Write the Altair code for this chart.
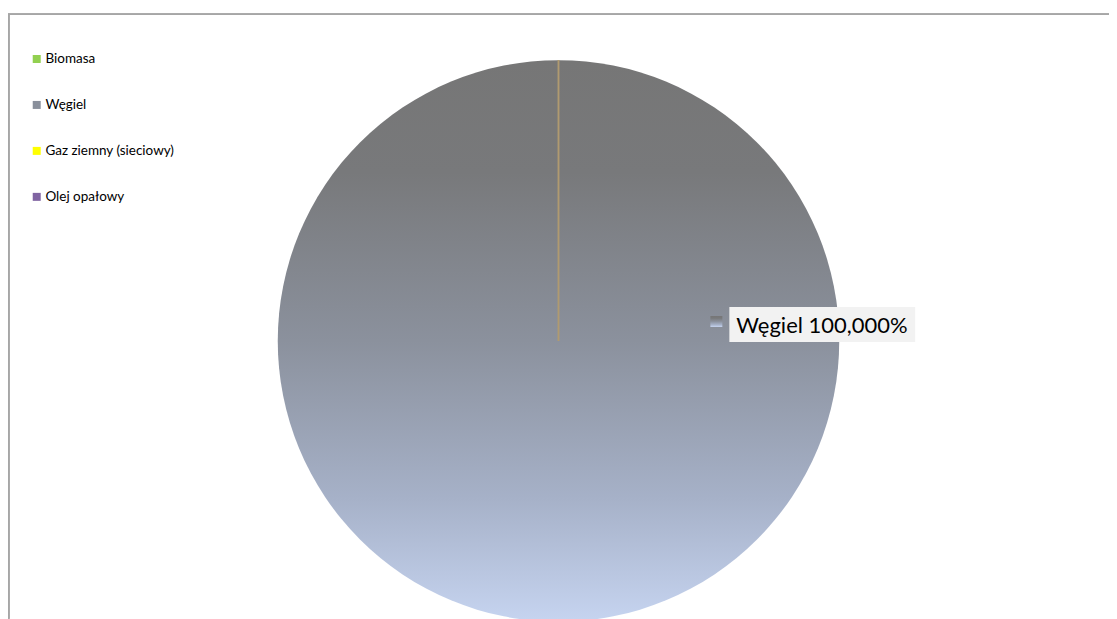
import altair as alt
import pandas as pd

categories = ["Biomasa", "Węgiel", "Gaz ziemny (sieciowy)", "Olej opałowy"]
shares = [0.0, 100.0, 0.0, 0.0]
legend_colors = ["#92d050", "#8a909c", "#ffff00", "#8064a2"]

df = pd.DataFrame({"category": categories, "value": shares, "idx": range(len(categories))})
df["label"] = df["category"] + " " + df["value"].map(lambda v: f"{v:.3f}".replace(".", ",")) + "%"

grad = {
    "gradient": "linear",
    "x1": 0, "y1": 0, "x2": 0, "y2": 1,
    "stops": [
        {"offset": 0.0, "color": "#767676"},
        {"offset": 0.2, "color": "#78797b"},
        {"offset": 0.5, "color": "#8b919d"},
        {"offset": 0.78, "color": "#a6b1c8"},
        {"offset": 1.0, "color": "#c6d4f0"},
    ],
}

FONT = "Lato"
CX, CY, R = 551, 333, 281

base = alt.Chart(df)

pie = base.mark_arc(radius=R, strokeWidth=1.5).encode(
    theta=alt.Theta("value:Q", stack=True),
    order=alt.Order("idx:Q"),
    color=alt.condition(
        alt.datum.category == "Węgiel",
        alt.value(grad),
        alt.Color(
            "category:N",
            scale=alt.Scale(domain=categories, range=legend_colors),
            sort=categories,
            legend=alt.Legend(
                title=None,
                orient="none",
                legendX=22,
                legendY=44,
                symbolType="square",
                symbolSize=64,
                symbolStrokeWidth=0,
                labelFont=FONT,
                labelFontSize=13.5,
                labelColor="#000000",
                rowPadding=31,
                labelOffset=2,
            ),
        ),
    ),
    stroke=alt.condition(alt.datum.value == 0, alt.value("#b09a70"), alt.value("transparent")),
    x=alt.value(CX),
    y=alt.value(CY),
)

lab = base.transform_filter(alt.datum.value > 0)

label_bg = lab.mark_rect(color="#f2f2f2").encode(
    x=alt.value(722), x2=alt.value(908), y=alt.value(299), y2=alt.value(334)
)
label_sym = lab.mark_rect(fill=grad).encode(
    x=alt.value(703), x2=alt.value(715), y=alt.value(308), y2=alt.value(319)
)
label_txt = lab.mark_text(align="left", baseline="middle", font=FONT, fontSize=22, color="#000000").encode(
    text="label:N", x=alt.value(729), y=alt.value(318)
)

border_top = base.mark_rule(color="#a6a6a6", strokeWidth=1.5).encode(
    x=alt.value(0), x2=alt.value(1102), y=alt.value(6)
)
border_left = base.mark_rule(color="#a6a6a6", strokeWidth=1.5).encode(
    x=alt.value(0.75), y=alt.value(6), y2=alt.value(611)
)

chart = alt.layer(border_top, border_left, pie, label_bg, label_sym, label_txt).properties(
    width=1102,
    height=611,
    autosize=alt.AutoSizeParams(type="none"),
    padding=0,
).configure_view(stroke=None)

chart.save("out.html", embed_options={"renderer": "svg", "actions": False})
